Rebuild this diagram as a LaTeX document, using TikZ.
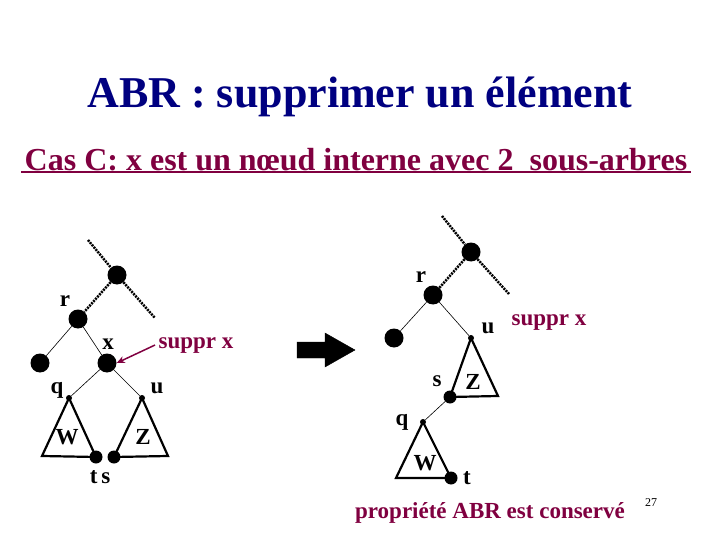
\documentclass[tikz,border=0pt]{standalone}
\usepackage{fontspec}
\setmainfont{Liberation Serif}
\usetikzlibrary{arrows.meta}
\definecolor{navy}{RGB}{0,0,128}
\definecolor{dred}{RGB}{128,0,64}
\begin{document}
\begin{tikzpicture}[x=1pt,y=-1pt,
  big/.style={circle,fill=black,inner sep=0pt,minimum size=19pt},
  mid/.style={circle,fill=black,inner sep=0pt,minimum size=13pt},
  sm/.style={circle,fill=black,inner sep=0pt,minimum size=6pt},
  lbl/.style={font=\bfseries\fontsize{23}{25}\selectfont},
  thinline/.style={line width=0.6pt},
  tri/.style={line width=2.2pt,line join=miter},
  dashline/.style={line width=2.5pt,dash pattern=on 2pt off 1pt}]
\useasboundingbox (0,0) rectangle (720,540);
\node[font=\bfseries\fontsize{44}{48}\selectfont,text=navy] (title) at (360,97) {ABR : supprimer un élément};
\node[font=\bfseries\fontsize{32}{34}\selectfont,text=dred] (sub) at (356,160) {Cas C: x est un nœud interne avec 2\ \ sous-arbres};
\draw[dred,line width=1.5pt] (sub.south west)++(0,-3) coordinate (ul1) -- (ul1 -| sub.south east);
% left tree
\coordinate (ld1) at (88,240); \coordinate (ld2) at (155,318);
\node[big] (lt) at (117,275) {};
\node[big] (lr) at (78,319) {};
\node[big] (ll) at (40,363) {};
\node[big] (lx) at (107,363) {};
\node[sm] (lq) at (69,398) {};
\node[sm] (lu) at (142,398) {};
\node[mid] (ltt) at (96,457) {};
\node[mid] (ls) at (114,457) {};
\coordinate (lwl) at (42,456); \coordinate (lzr) at (168,456);
\draw[dashline] (ld1) -- (lt) -- (ld2);
\draw[dashline] (lt) -- (lr);
\draw[thinline] (lr) -- (ll); \draw[thinline] (lr) -- (lx);
\draw[thinline] (lx) -- (lq); \draw[thinline] (lx) -- (lu);
\draw[tri] (lq.center) -- (lwl) -- (ltt.center) -- cycle;
\draw[tri] (lu.center) -- (ls.center) -- (lzr) -- cycle;
\node[lbl] (labr) at (65,301) {r};
\node[lbl] (labx) at (108,344) {x};
\node[lbl] (labq) at (57,390) {q};
\node[lbl] (labu) at (157,388) {u};
\node[lbl] (labw) at (67,437) {W};
\node[lbl] (labz) at (143,437) {Z};
\node[lbl] (labts) at (100,477) {t\,s};
\node[lbl,text=dred] (sup1) at (196,345) {suppr x};
\draw[dred,line width=1.5pt,-{Stealth[length=8pt,width=7pt]}] (sup1.west) -- (lx.east);
% arrow
\draw[fill=black] (297,342) -- (325,342) -- (325,333) -- (355,350) -- (325,367) -- (325,358) -- (297,358) -- cycle;
% right tree
\coordinate (rd1) at (442,216); \coordinate (rd2) at (509,294);
\node[big] (rt) at (471,252) {};
\node[big] (rr) at (433,295) {};
\node[big] (rl) at (394,338) {};
\node[sm] (ru) at (471,338) {};
\node[mid] (rs) at (450,397) {};
\node[sm] (rq) at (423,422) {};
\node[mid] (rtt) at (451,478) {};
\coordinate (rzr) at (498,396); \coordinate (rwl) at (396,478);
\draw[dashline] (rd1) -- (rt) -- (rd2);
\draw[dashline] (rt) -- (rr);
\draw[thinline] (rr) -- (rl); \draw[thinline] (rr) -- (ru);
\draw[thinline] (rs) -- (rq);
\draw[tri] (ru.center) -- (rs.center) -- (rzr) -- cycle;
\draw[tri] (rq.center) -- (rwl) -- (rtt.center) -- cycle;
\node[lbl] (rlabr) at (421,277) {r};
\node[lbl] (rlabu) at (488,328) {u};
\node[lbl] (rlabs) at (437,381) {s};
\node[lbl] (rlabz) at (473,382) {Z};
\node[lbl] (rlabq) at (402,422) {q};
\node[lbl] (rlabw) at (425,463) {W};
\node[lbl] (rlabt) at (467,478) {t};
\node[lbl,text=dred] (sup2) at (549,322) {suppr x};
\node[lbl,text=dred] (foot) at (490,513) {propriété ABR est conservé};
\node[font=\fontsize{12}{14}\selectfont] (num) at (651,503) {27};
\end{tikzpicture}
\end{document}
